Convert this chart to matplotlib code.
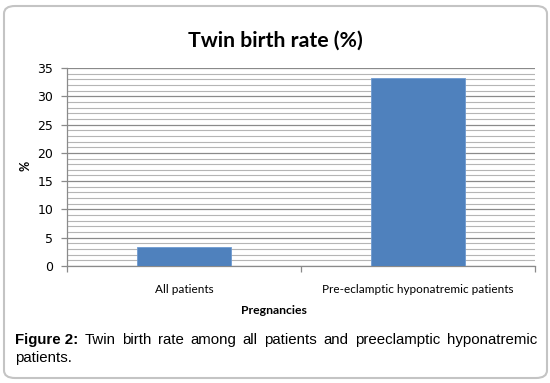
import matplotlib
matplotlib.use("Agg")
import matplotlib.pyplot as plt
from matplotlib.patches import FancyBboxPatch
from matplotlib.ticker import MultipleLocator, FixedLocator

categories = ["All patients", "Pre-eclamptic hyponatremic patients"]
values = [3.3, 33.3]
title = "Twin birth rate (%)"
xlabel = "Pregnancies"
ylabel = "%"
caption_bold = "Figure 2:"
caption_line1 = "Twin birth rate among all patients and preeclamptic hyponatremic"
caption_line2 = "patients."

W, H = 550, 383
fig = plt.figure(figsize=(W / 100, H / 100), dpi=100)

border = FancyBboxPatch((4 / W, 5 / H), 543 / W, 372 / H,
                        boxstyle="round,pad=0,rounding_size=0.02",
                        transform=fig.transFigure, fill=False,
                        edgecolor="#c4c4c4", linewidth=1.5)
fig.patches.append(border)

ax = fig.add_axes([67 / W, 1 - 266 / H, 468 / W, 198 / H])
x = list(range(len(categories)))
ax.bar(x, values, width=0.4, color="#4f81bd", edgecolor="#6f9ad0",
       linewidth=0.6, zorder=3)
ax.set_xlim(-0.5, len(categories) - 0.5)
ax.set_ylim(0, 35)
ax.yaxis.set_major_locator(MultipleLocator(5))
ax.yaxis.set_minor_locator(MultipleLocator(1))
ax.grid(which="major", axis="y", color="#8a8a8a", linewidth=0.9, zorder=0)
ax.grid(which="minor", axis="y", color="#b5b5b5", linewidth=0.8, zorder=0)
for s in ["top", "right"]:
    ax.spines[s].set_visible(False)
for s in ["left", "bottom"]:
    ax.spines[s].set_color("#8a8a8a")
    ax.spines[s].set_linewidth(0.9)

ax.set_xticks(x)
ax.set_xticklabels(categories, fontfamily="Lato", fontsize=8.5)
ax.tick_params(axis="x", which="major", length=0, pad=13)
ax.xaxis.set_minor_locator(FixedLocator([-0.5, 0.5, 1.5]))
ax.tick_params(axis="x", which="minor", length=4, color="#8a8a8a", width=0.9)
ax.tick_params(axis="y", which="major", length=4, color="#8a8a8a", width=0.9,
               labelsize=9, pad=6)
ax.tick_params(axis="y", which="minor", length=0)
for lbl in ax.get_yticklabels():
    lbl.set_fontfamily("DejaVu Sans")

fig.text(275 / W, 1 - 41 / H, title, ha="center", va="center",
         fontfamily="Lato", fontweight="bold", fontsize=15.3)
fig.text(274 / W, 1 - 311 / H, xlabel, ha="center", va="center",
         fontfamily="Lato", fontweight="bold", fontsize=8.8)
fig.text(26 / W, 1 - 166 / H, ylabel, ha="center", va="center",
         rotation=90, fontfamily="Lato", fontweight="bold", fontsize=9)

fig.canvas.draw()
r = fig.canvas.get_renderer()
left, right = 15, 537
y1 = 1 - 340 / H
words = [(caption_bold, "bold")] + [(w, "normal") for w in caption_line1.split()]
texts = []
for w, fw in words:
    t = fig.text(0, y1, w, ha="left", va="center", fontfamily="Liberation Sans",
                 fontweight=fw, fontsize=10.8)
    texts.append(t)
widths = [t.get_window_extent(r).width for t in texts]
gap = (right - left - sum(widths)) / (len(texts) - 1)
pos = left
for t, wd in zip(texts, widths):
    t.set_x(pos / W)
    pos += wd + gap
fig.text(left / W, 1 - 358 / H, caption_line2, ha="left", va="center",
         fontfamily="Liberation Sans", fontsize=10.8)

fig.savefig("out.png", dpi=100)
